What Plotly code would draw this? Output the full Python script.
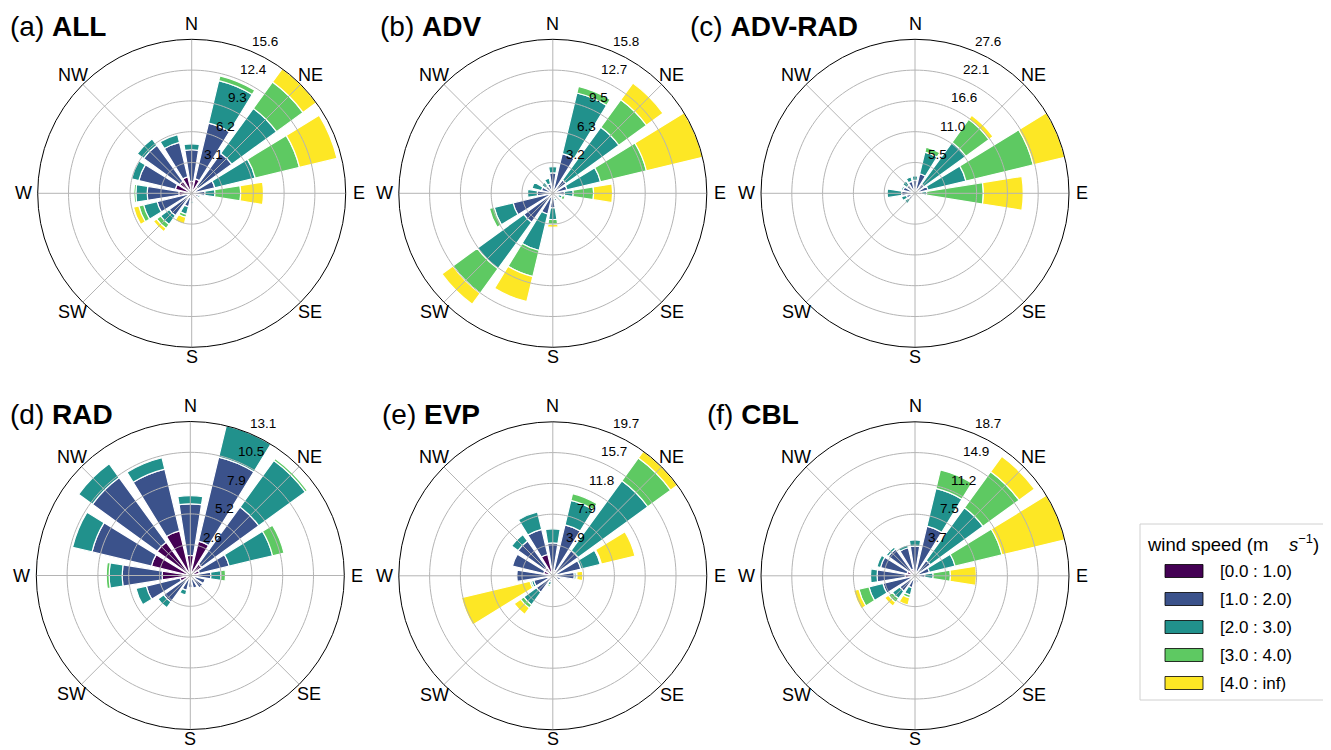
import math
import plotly.graph_objects as go

# ---------------- data ----------------
directions = ["N", "NNE", "NE", "ENE", "E", "ESE", "SE", "SSE",
              "S", "SSW", "SW", "WSW", "W", "WNW", "NW", "NNW"]
dir_theta = [0, 22.5, 45, 67.5, 90, 112.5, 135, 157.5,
             180, 202.5, 225, 247.5, 270, 292.5, 315, 337.5]
compass_labels = ["N", "NE", "E", "SE", "S", "SW", "W", "NW"]
compass_theta = [0, 45, 90, 135, 180, 225, 270, 315]

speed_bins = ["[0.0 : 1.0)", "[1.0 : 2.0)", "[2.0 : 3.0)", "[3.0 : 4.0)", "[4.0 : inf)"]
bin_colors = ["#440154", "#3b528b", "#21918c", "#5ec962", "#fde725"]

panel_tags = ["(a)", "(b)", "(c)", "(d)", "(e)", "(f)"]
panel_names = ["ALL", "ADV", "ADV-RAD", "RAD", "EVP", "CBL"]

# frequency (%) per direction (rows, N..NNW) and speed bin (columns)
freq_all = [
    [1.2, 3.2, 0.6, 0, 0],
    [1.5, 5.8, 4.4, 0.5, 0],
    [0.8, 4.2, 5.6, 3.3, 1.66],
    [0.4, 2.0, 4.2, 4.6, 3.9],
    [0.3, 1.05, 1.0, 2.6, 2.3],
    [0.2, 0.5, 0.2, 0.1, 0],
    [0.15, 0.35, 0.1, 0, 0],
    [0.15, 0.45, 0.1, 0, 0],
    [0.2, 0.6, 0.2, 0, 0],
    [0.3, 1.1, 0.8, 0.3, 0.7],
    [0.3, 2.5, 1.1, 0.5, 0.4],
    [0.4, 3.2, 1.4, 0.5, 0.55],
    [1.3, 3.2, 1.15, 0.2, 0],
    [1.7, 3.8, 0.75, 0, 0],
    [1.5, 4.5, 0.8, 0, 0],
    [1.7, 3.6, 0.8, 0, 0],
]
freq_adv = [
    [0.3, 1.8, 0.65, 0, 0],
    [0.3, 3.9, 6.4, 0.7, 0],
    [0.3, 1.4, 6.7, 3.5, 2.1],
    [0.3, 1.2, 3.55, 4.85, 5.93],
    [0.3, 0.9, 0.9, 2.1, 1.95],
    [0.2, 0.4, 0.4, 0.3, 0],
    [0.1, 0.3, 0.2, 0, 0],
    [0.15, 0.45, 0.2, 0, 0],
    [0.2, 1.3, 1.2, 0.5, 0.3],
    [0.3, 1.9, 3.85, 2.75, 2.65],
    [0.3, 3.4, 5.9, 3.1, 1.4],
    [0.3, 3.9, 2.0, 0.5, 0],
    [0.2, 1.4, 1.0, 0, 0],
    [0.2, 1.0, 1.0, 0, 0],
    [0.2, 0.7, 0.5, 0, 0],
    [0.2, 0.8, 0.6, 0, 0],
]
freq_advrad = [
    [0.3, 2.0, 0.8, 0, 0],
    [0.3, 3.3, 4.0, 0.9, 0],
    [0.3, 1.7, 9.3, 5.1, 0.9],
    [0.3, 2.1, 7.0, 12.4, 5.8],
    [0.3, 0.9, 0.9, 10.15, 7.15],
    [0.1, 0.5, 0.3, 0.1, 0],
    [0.1, 0.3, 0.1, 0, 0],
    [0.1, 0.3, 0.1, 0, 0],
    [0.1, 0.4, 0.1, 0, 0],
    [0.1, 0.6, 0.2, 0, 0],
    [0.2, 1.2, 0.9, 0, 0],
    [0.2, 1.4, 0.9, 0, 0],
    [0.3, 2.1, 2.6, 0, 0],
    [0.3, 1.9, 0.3, 0, 0],
    [0.3, 1.5, 0.9, 0, 0],
    [0.3, 1.9, 0.8, 0, 0],
]
freq_rad = [
    [1.7, 4.4, 0.7, 0, 0],
    [3.0, 7.35, 2.75, 0, 0],
    [1.2, 6.0, 4.9, 0.2, 0],
    [0.8, 2.6, 3.8, 1.0, 0],
    [0.6, 1.15, 0.85, 0.4, 0],
    [0.4, 0.9, 0, 0, 0],
    [0.3, 1.0, 0, 0, 0],
    [0.3, 0.8, 0, 0, 0],
    [0.3, 0.7, 0, 0, 0],
    [0.3, 1.0, 0.4, 0, 0],
    [0.3, 2.5, 0.6, 0, 0],
    [0.9, 2.95, 0.9, 0, 0],
    [2.4, 3.4, 1.1, 0.25, 0],
    [3.4, 5.2, 1.7, 0, 0],
    [3.5, 6.8, 1.45, 0, 0],
    [3.9, 5.4, 1.0, 0, 0],
]
freq_evp = [
    [0.6, 3.6, 1.8, 0, 0],
    [0.7, 6.0, 3.2, 0.9, 0],
    [0.5, 3.5, 11.0, 3.6, 1.07],
    [0.4, 3.3, 2.55, 0.15, 4.4],
    [0.3, 2.45, 0.25, 0.1, 0.75],
    [0.2, 0.8, 0, 0, 0],
    [0.1, 0.3, 0, 0, 0],
    [0.1, 0.4, 0, 0, 0],
    [0.1, 0.5, 0, 0, 0],
    [0.2, 0.6, 0.4, 0.2, 0],
    [0.3, 2.3, 2.0, 0.5, 1.0],
    [0.2, 2.3, 0.3, 0.2, 9.0],
    [0.5, 4.1, 0, 0, 0],
    [1.2, 4.1, 0, 0, 0],
    [1.3, 4.2, 1.0, 0, 0],
    [2.8, 3.3, 2.3, 0, 0],
]
freq_cbl = [
    [0.4, 3.2, 0.75, 0, 0],
    [0.5, 5.7, 4.7, 2.3, 0],
    [0.4, 1.9, 7.9, 5.4, 2.3],
    [0.3, 1.5, 3.2, 5.85, 7.82],
    [0.3, 0.9, 1.0, 2.1, 3.15],
    [0.2, 0.5, 0, 0, 0],
    [0.1, 0.4, 0, 0, 0],
    [0.2, 0.6, 0, 0, 0],
    [0.2, 0.7, 0, 0, 0],
    [0.2, 1.3, 0.9, 0.35, 0.9],
    [0.3, 2.0, 1.1, 0.6, 0.55],
    [0.3, 3.7, 1.75, 1.25, 0.65],
    [1.2, 3.4, 0.8, 0, 0],
    [1.0, 3.3, 0.45, 0, 0],
    [0.8, 3.2, 0.3, 0, 0],
    [0.8, 2.7, 0.35, 0, 0],
]

radial_labels_all = ["3.1", "6.2", "9.3", "12.4", "15.6"]
radial_labels_adv = ["3.2", "6.3", "9.5", "12.7", "15.8"]
radial_labels_advrad = ["5.5", "11.0", "16.6", "22.1", "27.6"]
radial_labels_rad = ["2.6", "5.2", "7.9", "10.5", "13.1"]
radial_labels_evp = ["3.9", "7.9", "11.8", "15.7", "19.7"]
radial_labels_cbl = ["3.7", "7.5", "11.2", "14.9", "18.7"]

panel_freqs = [freq_all, freq_adv, freq_advrad, freq_rad, freq_evp, freq_cbl]
panel_rlabels = [radial_labels_all, radial_labels_adv, radial_labels_advrad,
                 radial_labels_rad, radial_labels_evp, radial_labels_cbl]

# ---------------- layout geometry (page pixels) ----------------
PAGE_W, PAGE_H = 1331, 750
OFF = 8                      # browser body margin
FIG_W, FIG_H = PAGE_W - OFF, PAGE_H - OFF
R_PX = 154
centers = [(191.7, 193.3), (552.8, 193.3), (915.0, 193.3),
           (190.3, 575.5), (552.8, 575.8), (915.0, 575.8)]
title_pos = [(8, 26.6), (378, 26.6), (688, 26.6), (8, 414), (380, 414), (705, 414)]
# distance of compass labels from the rim (px) for N, NE, E, SE, S, SW, W, NW
compass_gap = [15.5, 14, 13, 14, 9.5, 14, 14.5, 14]
RLABEL_ANGLE = 22.5          # radial tick labels position (deg, clockwise from N)


def px(x):
    return (x - OFF) / FIG_W


def py(y):
    return 1 - (y - OFF) / FIG_H


FONT = "Liberation Sans, Arial, sans-serif"
GRID = "#b4b4b4"
BAR_OPENING = 18  # degrees

fig = go.Figure()
layout_polars = {}
annotations = []

for i, (freq, rlabels) in enumerate(zip(panel_freqs, panel_rlabels)):
    sub = "polar" if i == 0 else f"polar{i + 1}"
    totals = [sum(row) for row in freq]
    rmax = max(totals)
    tickvals = [rmax * k / 5 for k in range(1, 6)]

    for j, name in enumerate(speed_bins):
        r = [row[j] if row[j] > 0 else None for row in freq]
        fig.add_trace(go.Barpolar(
            r=r, theta=dir_theta, width=BAR_OPENING, name=name,
            marker=dict(color=bin_colors[j], line=dict(color="white", width=1.2)),
            subplot=sub, showlegend=False, hoverinfo="skip"))

    # grid drawn above the bars (like the original)
    circ_theta = list(range(0, 361, 2))
    for tv in tickvals[:-1]:
        fig.add_trace(go.Scatterpolar(
            r=[tv] * len(circ_theta), theta=circ_theta, mode="lines",
            line=dict(color=GRID, width=1), subplot=sub,
            showlegend=False, hoverinfo="skip"))
    sr, st = [], []
    for a in compass_theta:
        sr += [0, rmax, None]
        st += [a, a, None]
    fig.add_trace(go.Scatterpolar(
        r=sr, theta=st, mode="lines", line=dict(color=GRID, width=1),
        subplot=sub, showlegend=False, hoverinfo="skip"))

    cx, cy = centers[i]
    layout_polars[sub] = dict(
        domain=dict(x=[px(cx - R_PX), px(cx + R_PX)],
                    y=[py(cy + R_PX), py(cy - R_PX)]),
        bgcolor="white",
        barmode="stack",
        bargap=0,
        angularaxis=dict(
            rotation=90, direction="clockwise",
            tickmode="array", tickvals=compass_theta, ticktext=compass_labels,
            showticklabels=False,
            showgrid=False, showline=True, linecolor="black", linewidth=1,
            ticks=""),
        radialaxis=dict(
            range=[0, rmax], tickmode="array", tickvals=tickvals, ticktext=rlabels,
            showticklabels=False, showgrid=False, showline=False, ticks=""),
    )

    # compass labels around the rim
    for lab, ang, gap in zip(compass_labels, compass_theta, compass_gap):
        rad = math.radians(ang)
        lx = cx + (R_PX + gap) * math.sin(rad)
        ly = cy - (R_PX + gap) * math.cos(rad)
        annotations.append(dict(
            text=lab, x=px(lx), y=py(ly), xref="paper", yref="paper",
            xanchor="center", yanchor="middle", showarrow=False, borderpad=0,
            font=dict(family=FONT, size=18, color="black")))

    # radial tick labels (matplotlib style: left/bottom anchored at the ring)
    rad = math.radians(RLABEL_ANGLE)
    for tv, lab in zip(tickvals, rlabels):
        rp = tv / rmax * R_PX
        lx = cx + rp * math.sin(rad)
        ly = cy - rp * math.cos(rad)
        annotations.append(dict(
            text=lab, x=px(lx), y=py(ly - 1.5), xref="paper", yref="paper",
            xanchor="left", yanchor="bottom", showarrow=False, borderpad=0,
            font=dict(family=FONT, size=13.5, color="black")))

    tx, ty = title_pos[i]
    annotations.append(dict(
        text=f"{panel_tags[i]} <b>{panel_names[i]}</b>",
        x=px(tx), y=py(ty), xref="paper", yref="paper",
        xanchor="left", yanchor="middle", showarrow=False,
        font=dict(family=FONT, size=28, color="black")))

# ---------------- manual legend ----------------
shapes = []
LX0, LX1, LY0, LY1 = 1140, 1345, 524, 700
shapes.append(dict(type="rect", xref="paper", yref="paper",
                   x0=px(LX0), x1=px(LX1), y0=py(LY1), y1=py(LY0),
                   line=dict(color="#d0d0d0", width=1), fillcolor="white", layer="below"))
annotations.append(dict(
    text="wind speed (m\u00a0\u00a0\u00a0\u00a0<i>s</i><sup>\u22121</sup>)",
    x=px(1145), y=py(543), xref="paper", yref="paper",
    xanchor="left", yanchor="middle", showarrow=False,
    font=dict(family=FONT, size=18.5, color="black")))
row_y = [571, 599, 627, 655, 683]
for j, name in enumerate(speed_bins):
    yc = row_y[j]
    shapes.append(dict(type="rect", xref="paper", yref="paper",
                       x0=px(1165), x1=px(1203),
                       y0=py(yc + 6.5), y1=py(yc - 6.5),
                       line=dict(color="black", width=0.8), fillcolor=bin_colors[j]))
    annotations.append(dict(
        text=name, x=px(1218), y=py(yc), xref="paper", yref="paper",
        xanchor="left", yanchor="middle", showarrow=False,
        font=dict(family=FONT, size=17, color="black")))

fig.update_layout(
    width=FIG_W, height=FIG_H,
    margin=dict(l=0, r=0, t=0, b=0),
    paper_bgcolor="white", plot_bgcolor="white",
    showlegend=False,
    annotations=annotations, shapes=shapes,
    **layout_polars)

fig.write_html("out.html")
